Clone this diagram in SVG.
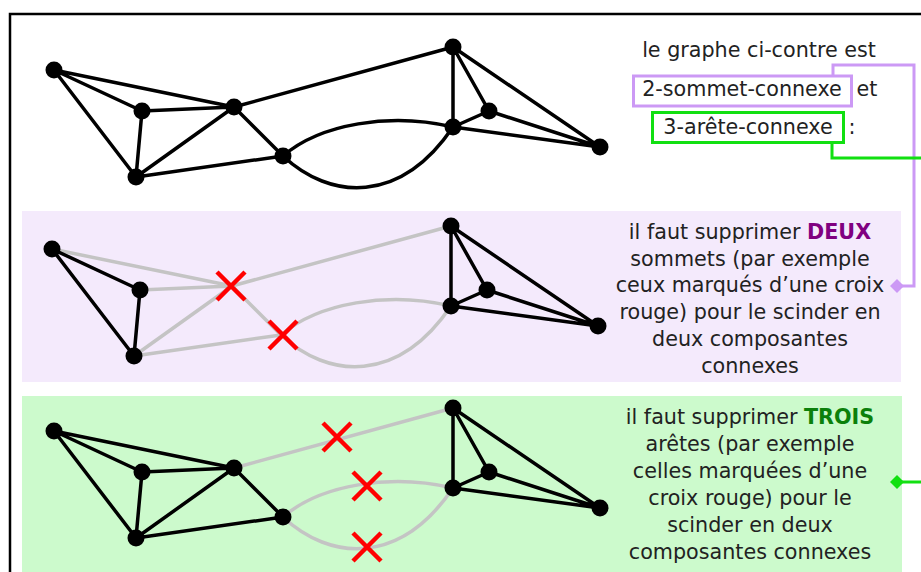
<svg xmlns="http://www.w3.org/2000/svg" width="921" height="572" viewBox="0 0 921 572">
<style>
.e{stroke:#000;stroke-width:3.5;fill:none;stroke-linecap:round}
.g{stroke:#c4c4c4;stroke-width:3.5;fill:none;stroke-linecap:round}
.n{fill:#000}
.x{stroke:#ff0000;stroke-width:4.5;fill:none}
.t{font-family:"DejaVu Sans","Verdana",sans-serif;font-size:20.7px;fill:#222;text-anchor:middle}
.bp{font-weight:bold;fill:#800080}
.bg{font-weight:bold;fill:#0b800b}
.lp{stroke:#cc99f5;stroke-width:3;fill:none}
.lg{stroke:#11e011;stroke-width:3;fill:none}
</style>
<defs>
<g id="cross"><path d="M-14,-14L14,14M14,-14L-14,14"/></g>
</defs>
<rect x="0" y="0" width="921" height="572" fill="#fff"/>
<path d="M10,572V14H921" stroke="#000" stroke-width="2.5" fill="none"/>

<g id="panel-deux"><rect x="22" y="211" width="879" height="171" fill="#f4eafc"/></g>
<g id="panel-trois"><rect x="22" y="396" width="880" height="176" fill="#ccfacc"/></g>

<!-- top graph -->
<g id="graph-top">
<path class="e" d="M54,70L234,107M54,70L142,111M54,70L136,177M142,111L234,107M142,111L136,177M136,177L234,107M136,177L283,156M234,107L283,156M234,107L453,47M283,156C320,124 390,112 453,127M283,156C330,200 400,205 453,127M453,47L453,127M453,47L489,111M453,47L600,147M489,111L453,127M489,111L600,147M453,127L600,147"/>
<g class="n"><circle cx="54" cy="70" r="8.5"/><circle cx="142" cy="111" r="8.5"/><circle cx="234" cy="107" r="8.5"/><circle cx="136" cy="177" r="8.5"/><circle cx="283" cy="156" r="8.5"/><circle cx="453" cy="47" r="8.5"/><circle cx="489" cy="111" r="8.5"/><circle cx="453" cy="127" r="8.5"/><circle cx="600" cy="147" r="8.5"/></g>
</g>

<!-- middle graph -->
<g id="graph-deux" transform="translate(-2,179)">
<path class="g" d="M54,70L234,107M142,111L234,107M136,177L234,107M136,177L283,156M234,107L283,156M234,107L453,47M283,156C320,124 390,112 453,127M283,156C330,200 400,205 453,127"/>
<path class="e" d="M54,70L142,111M54,70L136,177M142,111L136,177M453,47L453,127M453,47L489,111M453,47L600,147M489,111L453,127M489,111L600,147M453,127L600,147"/>
<g class="n"><circle cx="54" cy="70" r="8.5"/><circle cx="142" cy="111" r="8.5"/><circle cx="136" cy="177" r="8.5"/><circle cx="453" cy="47" r="8.5"/><circle cx="489" cy="111" r="8.5"/><circle cx="453" cy="127" r="8.5"/><circle cx="600" cy="147" r="8.5"/></g>
<g class="x"><use href="#cross" x="233" y="107"/><use href="#cross" x="285" y="156"/></g>
</g>

<!-- bottom graph -->
<g id="graph-trois" transform="translate(0,361)">
<path class="g" d="M234,107L453,47M283,156C320,124 390,112 453,127M283,156C330,200 400,205 453,127"/>
<path class="e" d="M54,70L234,107M54,70L142,111M54,70L136,177M142,111L234,107M142,111L136,177M136,177L234,107M136,177L283,156M234,107L283,156M453,47L453,127M453,47L489,111M453,47L600,147M489,111L453,127M489,111L600,147M453,127L600,147"/>
<g class="n"><circle cx="54" cy="70" r="8.5"/><circle cx="142" cy="111" r="8.5"/><circle cx="234" cy="107" r="8.5"/><circle cx="136" cy="177" r="8.5"/><circle cx="283" cy="156" r="8.5"/><circle cx="453" cy="47" r="8.5"/><circle cx="489" cy="111" r="8.5"/><circle cx="453" cy="127" r="8.5"/><circle cx="600" cy="147" r="8.5"/></g>
<g class="x"><use href="#cross" x="337" y="76"/><use href="#cross" x="367" y="125"/><use href="#cross" x="367" y="186"/></g>
</g>

<!-- connectors -->
<g id="connectors">
<path class="lp" d="M833,76V65H914V286H900"/>
<path d="M897,279L904,286L897,293L890,286Z" fill="#cc99f5"/>
<path class="lg" d="M832,143V158H921"/>
<path class="lg" d="M921,482H900"/>
<path d="M897,475L904,482L897,489L890,482Z" fill="#11e011"/>
</g>

<!-- texts -->
<g id="intro">
<text class="t" x="759" y="57">le graphe ci-contre est</text>
<rect x="633.5" y="76" width="218" height="30" class="lp"/>
<text class="t" x="742" y="96">2-sommet-connexe</text>
<text class="t" x="867" y="96">et</text>
<rect x="652.5" y="112.5" width="191" height="30" class="lg"/>
<text class="t" x="748" y="134">3-arête-connexe</text>
<text class="t" x="852" y="134">:</text>
</g>
<g id="text-deux">
<text class="t" x="750" y="239">il faut supprimer <tspan class="bp">DEUX</tspan></text>
<text class="t" x="750" y="266">sommets (par exemple</text>
<text class="t" x="750" y="292">ceux marqués d’une croix</text>
<text class="t" x="750" y="319">rouge) pour le scinder en</text>
<text class="t" x="750" y="346">deux composantes</text>
<text class="t" x="750" y="373">connexes</text>
</g>
<g id="text-trois">
<text class="t" x="750" y="424">il faut supprimer <tspan class="bg">TROIS</tspan></text>
<text class="t" x="750" y="451">arêtes (par exemple</text>
<text class="t" x="750" y="478">celles marquées d’une</text>
<text class="t" x="750" y="505">croix rouge) pour le</text>
<text class="t" x="750" y="532">scinder en deux</text>
<text class="t" x="750" y="559">composantes connexes</text>
</g>
</svg>
